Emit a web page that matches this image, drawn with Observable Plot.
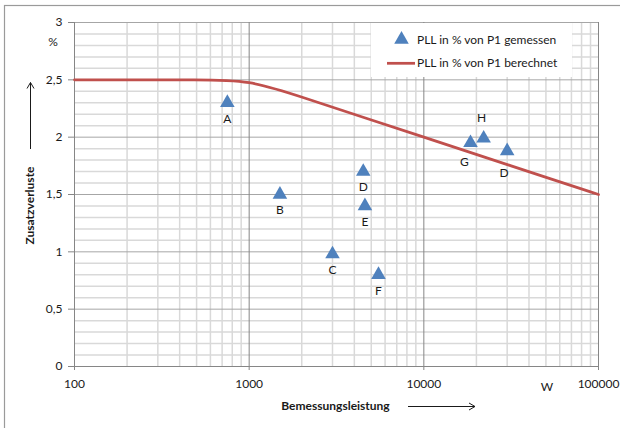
<!DOCTYPE html>
<html>
<head>
<meta charset="utf-8">
<script src="https://cdn.jsdelivr.net/npm/d3@7"></script>
<script src="https://cdn.jsdelivr.net/npm/@observablehq/plot@0.6"></script>
<style>
  html, body { margin: 0; padding: 0; background: #fff; }
  #chart { width: 620px; height: 428px; overflow: hidden; }
  svg { font-family: Lato, "Open Sans", sans-serif; }
</style>
</head>
<body>
<div id="chart"></div>
<script>
// ---- data ----
const xMajorTicks = [100, 1000, 10000, 100000];
const xMinorTicks = [200, 300, 400, 500, 600, 700, 800, 900,
                     2000, 3000, 4000, 5000, 6000, 7000, 8000, 9000,
                     20000, 30000, 40000, 50000, 60000, 70000, 80000, 90000];
const yMajorTicks = [0, 0.5, 1, 1.5, 2, 2.5, 3];
const yTickLabels = ["0", "0,5", "1", "1,5", "2", "2,5", "3"];
const yMinorTicks = [0.1, 0.2, 0.3, 0.4, 0.6, 0.7, 0.8, 0.9,
                     1.1, 1.2, 1.3, 1.4, 1.6, 1.7, 1.8, 1.9,
                     2.1, 2.2, 2.3, 2.4, 2.6, 2.7, 2.8, 2.9];

const measuredNames = ["A", "B", "C", "D", "E", "F", "G", "H", "D"];
const measuredPower = [750, 1500, 3000, 4500, 4600, 5500, 18500, 22000, 30000];
const measuredLoss  = [2.3, 1.5, 0.98, 1.7, 1.4, 0.8, 1.95, 1.99, 1.88];
const labelPlacement = ["below", "below", "below", "below", "below", "below", "belowLeft", "above", "belowFar"];

const calcPower = [100, 200, 500, 1000, 2000, 5000, 10000, 20000, 50000, 100000];
const calcLoss  = [2.5, 2.5, 2.5, 2.5, 2.35, 2.15, 2.0, 1.85, 1.65, 1.5];

const legendMeasured = "PLL in % von P1 gemessen";
const legendCalc = "PLL in % von P1 berechnet";
const yLabel = "Zusatzverluste";
const xLabel = "Bemessungsleistung";
const yUnit = "%";
const xUnit = "W";

// ---- tables ----
const measured = measuredNames.map((n, i) => ({name: n, p: measuredPower[i], v: measuredLoss[i], pos: labelPlacement[i]}));
const calc = calcPower.map((p, i) => ({p, v: calcLoss[i]}));

const BLUE = "#4F81BD";
const RED = "#C0504D";
const MINOR = "#d9d9d9";
const MAJOR = "#a6a6a6";
const AXIS = "#868686";
const TEXT = "#1a1a1a";

const labelOffsets = {
  below: {dx: 0, dy: 16},
  belowLeft: {dx: -6, dy: 19},
  above: {dx: -2, dy: -20},
  belowFar: {dx: -3, dy: 22}
};

const plot = Plot.plot({
  width: 620,
  height: 428,
  marginLeft: 74,
  marginRight: 22,
  marginTop: 22,
  marginBottom: 62,
  style: {fontFamily: "Lato, 'Open Sans', sans-serif", fontSize: "12px", color: TEXT, background: "#fff"},
  x: {type: "log", domain: [100, 100000]},
  y: {domain: [0, 3]},
  marks: [
    Plot.ruleX(xMinorTicks, {stroke: MINOR, strokeWidth: 1.5}),
    Plot.ruleY(yMinorTicks, {stroke: MINOR, strokeWidth: 1.5}),
    Plot.ruleY(yMajorTicks.filter(d => d > 0), {stroke: MAJOR, strokeWidth: 1}),
    Plot.ruleX(xMajorTicks.filter(d => d > 100), {stroke: AXIS, strokeWidth: 1}),
    Plot.ruleX([100], {stroke: AXIS, strokeWidth: 1}),
    Plot.ruleY([0], {stroke: AXIS, strokeWidth: 1}),
    Plot.axisX({
      ticks: xMajorTicks,
      tickFormat: d => String(d),
      tickSize: 4,
      tickPadding: 9,
      stroke: AXIS,
      fill: TEXT,
      fontSize: 12,
      label: null
    }),
    Plot.axisY({
      ticks: yMajorTicks,
      tickFormat: d => yTickLabels[yMajorTicks.indexOf(d)],
      tickSize: 6,
      tickPadding: 6,
      stroke: AXIS,
      fill: TEXT,
      fontSize: 12,
      label: null
    }),
    Plot.line(calc, {x: "p", y: "v", stroke: RED, strokeWidth: 2.75, curve: "basis"}),
    Plot.dot(measured, {x: "p", y: "v", symbol: "triangle", r: 5.4, fill: BLUE, stroke: "none"}),
    ...Object.entries(labelOffsets).map(([key, o]) =>
      Plot.text(measured.filter(d => d.pos === key), {
        x: "p", y: "v", text: "name", dx: o.dx, dy: o.dy,
        fill: TEXT, fontSize: 12
      })
    )
  ]
});

document.getElementById("chart").appendChild(plot);

// ---- annotations (legend, axis titles, arrows, border) ----
const svg = d3.select(plot);

// outer chart border (only top/left visible in the crop)
svg.insert("rect", ":first-child")
  .attr("x", 4.5).attr("y", 5.5).attr("width", 700).attr("height", 700)
  .attr("fill", "none").attr("stroke", "#9a9a9a").attr("stroke-width", 1.2);

// legend box
const lg = svg.append("g").attr("text-anchor", "start");
lg.append("rect").attr("x", 371).attr("y", 23).attr("width", 201).attr("height", 54).attr("fill", "#fff");
lg.append("path")
  .attr("d", d3.symbol(d3.symbolTriangle, Math.PI * 5.4 * 5.4)())
  .attr("transform", "translate(401.5,39.5)")
  .attr("fill", BLUE);
lg.append("line").attr("x1", 387).attr("x2", 415).attr("y1", 63.3).attr("y2", 63.3)
  .attr("stroke", RED).attr("stroke-width", 2.75);
lg.append("text").attr("x", 417).attr("y", 39.5).attr("dy", "0.35em").attr("text-anchor", "start")
  .attr("font-size", 12).attr("fill", TEXT).text(legendMeasured);
lg.append("text").attr("x", 417).attr("y", 62.5).attr("dy", "0.35em").attr("text-anchor", "start")
  .attr("font-size", 12).attr("fill", TEXT).text(legendCalc);

// unit labels
svg.append("text").attr("x", 53).attr("y", 42).attr("dy", "0.35em")
  .attr("text-anchor", "middle").attr("font-size", 12).attr("fill", TEXT).text(yUnit);
svg.append("text").attr("x", 547).attr("y", 387).attr("dy", "0.35em")
  .attr("text-anchor", "middle").attr("font-size", 12).attr("fill", TEXT).text(xUnit);

// y axis title + arrow
svg.append("text")
  .attr("transform", "translate(30,205.5) rotate(-90)")
  .attr("text-anchor", "middle").attr("dy", "0.35em")
  .attr("font-size", 12).attr("font-weight", "bold").attr("fill", TEXT)
  .text(yLabel);
svg.append("path")
  .attr("d", "M30.5,149 L30.5,82.5 M27,88.5 L30.5,82.5 L34,88.5")
  .attr("fill", "none").attr("stroke", TEXT).attr("stroke-width", 1);

// x axis title + arrow
svg.append("text")
  .attr("x", 335.5).attr("y", 405.5).attr("dy", "0.35em")
  .attr("text-anchor", "middle")
  .attr("font-size", 12).attr("font-weight", "bold").attr("fill", TEXT)
  .text(xLabel);
svg.append("path")
  .attr("d", "M408,406.5 L475,406.5 M469,403 L475,406.5 L469,410")
  .attr("fill", "none").attr("stroke", TEXT).attr("stroke-width", 1);
</script>
</body>
</html>
